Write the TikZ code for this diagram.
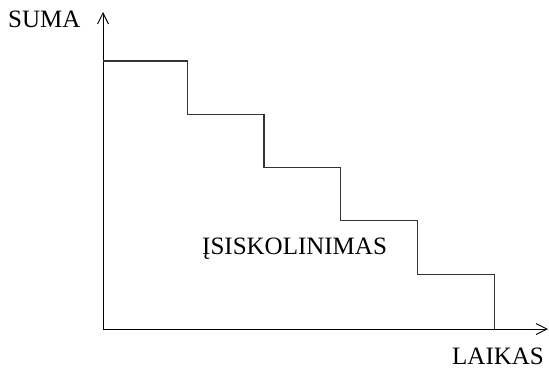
\documentclass[tikz,border=0pt]{standalone}
\usepackage{fontspec}
\setmainfont{Liberation Serif}
\usetikzlibrary{arrows.meta}

\begin{document}
\begin{tikzpicture}[
    x=1pt, y=1pt,
    >={Straight Barb[length=11pt, width=11pt]},
    axis/.style={line width=0.9pt, ->},
    stair/.style={line width=1.1pt, black!80},
    label text/.style={font=\fontsize{25}{30}\selectfont, inner sep=0pt, anchor=base west},
]
\useasboundingbox (0,0) rectangle (549,368);

% ── Axes ──────────────────────────────────────────────────────────────────────
\coordinate (origin) at (103, 39);
\coordinate (ytop)   at (103, 356);
\coordinate (xend)   at (548, 39);

\draw[axis] (origin) -- (ytop);
\draw[axis] (origin) -- (xend);

% ── Debt staircase ────────────────────────────────────────────────────────────
\draw[stair] (103, 307) -- (187.3, 307)
    -- (187.3, 253.7) -- (264, 253.7)
    -- (264, 200.4)   -- (340.7, 200.4)
    -- (340.7, 147.1) -- (417.4, 147.1)
    -- (417.4, 93.8)  -- (494.1, 93.8)
    -- (494.1, 39);

% ── Labels ────────────────────────────────────────────────────────────────────
\node[label text] (suma)   at (8, 341)   {SUMA};
\node[label text] (laikas) at (452, 4)   {LAIKAS};
\node[label text] (debt)   at (202, 114) {ĮSISKOLINIMAS};

\end{tikzpicture}
\end{document}
